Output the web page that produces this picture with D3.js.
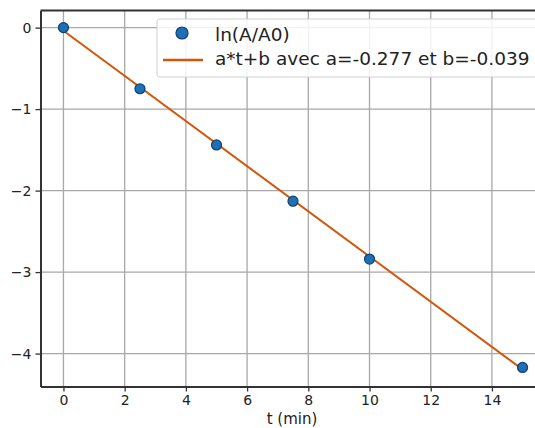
<!DOCTYPE html>
<html>
<head>
<meta charset="utf-8">
<script src="https://cdn.jsdelivr.net/npm/d3@7"></script>
<style>
  body { margin: 0; background: #fff; }
  text { font-family: "DejaVu Sans", sans-serif; fill: #222; }
</style>
</head>
<body>
<svg id="chart" width="535" height="428"></svg>
<script>
// measured points: t (min) and ln(A/A0)
var tValues = [0, 2.5, 5, 7.5, 10, 15];
var lnValues = [0, -0.75, -1.44, -2.13, -2.84, -4.17];
// linear fit
var slopeA = -0.277;
var interceptB = -0.039;
var xTicks = [0, 2, 4, 6, 8, 10, 12, 14];
var yTicks = [0, -1, -2, -3, -4];
var legendLabels = ['ln(A/A0)', 'a*t+b avec a=-0.277 et b=-0.039'];

var svg = d3.select('#chart');
var plotL = 40.5, plotR = 545.5, plotT = 10.5, plotB = 386.5;

var x = d3.scaleLinear().domain([-0.75, 15.75]).range([plotL, plotR]);
var y = d3.scaleLinear().domain([-4.404, 0.21]).range([plotB, plotT]);

// grid
svg.append('g').selectAll('line').data(xTicks).join('line')
    .attr('x1', function(d) { return x(d); }).attr('x2', function(d) { return x(d); })
    .attr('y1', plotT).attr('y2', plotB)
    .attr('stroke', '#a8a8a8').attr('stroke-width', 1.3);
svg.append('g').selectAll('line').data(yTicks).join('line')
    .attr('y1', function(d) { return y(d); }).attr('y2', function(d) { return y(d); })
    .attr('x1', plotL).attr('x2', plotR)
    .attr('stroke', '#a8a8a8').attr('stroke-width', 1.3);

// axes
var xAxis = svg.append('g').attr('transform', 'translate(0,' + plotB + ')')
    .call(d3.axisBottom(x).tickValues(xTicks).tickSizeInner(5).tickSizeOuter(0).tickPadding(4)
        .tickFormat(d3.format('d')));
var yAxis = svg.append('g').attr('transform', 'translate(' + plotL + ',0)')
    .call(d3.axisLeft(y).tickValues(yTicks).tickSizeInner(5).tickSizeOuter(0).tickPadding(4)
        .tickFormat(function(d) { return d < 0 ? '\u2212' + Math.abs(d) : d; }));
[xAxis, yAxis].forEach(function(ax) {
    ax.select('.domain').attr('stroke', '#333').attr('stroke-width', 2);
    ax.selectAll('.tick line').attr('stroke', '#333').attr('stroke-width', 1.3);
    ax.selectAll('.tick text').style('font-size', '14px').style('font-family', '"DejaVu Sans", sans-serif')
        .attr('fill', '#1a1a1a');
});
// top spine
svg.append('line').attr('x1', plotL).attr('x2', plotR).attr('y1', plotT).attr('y2', plotT)
    .attr('stroke', '#333').attr('stroke-width', 2);

svg.append('text').attr('x', (plotL + plotR) / 2 - 1).attr('y', 424)
    .attr('text-anchor', 'middle').style('font-size', '15px').text('t (min)');

// fit line
svg.append('line')
    .attr('x1', x(0)).attr('y1', y(interceptB))
    .attr('x2', x(15)).attr('y2', y(slopeA * 15 + interceptB))
    .attr('stroke', '#d2570a').attr('stroke-width', 2);

// points
svg.append('g').selectAll('circle').data(tValues).join('circle')
    .attr('cx', function(d) { return x(d); })
    .attr('cy', function(d, i) { return y(lnValues[i]); })
    .attr('r', 5).attr('fill', '#1f6fb4').attr('stroke', '#0d3f78').attr('stroke-width', 1.2);

// legend
var lg = svg.append('g');
lg.append('rect').attr('x', 157).attr('y', 19).attr('width', 400).attr('height', 58).attr('rx', 3)
    .attr('fill', 'rgba(255,255,255,0.85)').attr('stroke', '#d0d0d0');
lg.append('circle').attr('cx', 182).attr('cy', 33).attr('r', 6)
    .attr('fill', '#1f6fb4').attr('stroke', '#0d3f78').attr('stroke-width', 1.2);
lg.append('line').attr('x1', 163).attr('x2', 203).attr('y1', 60).attr('y2', 60)
    .attr('stroke', '#d2570a').attr('stroke-width', 2.4);
lg.selectAll('text').data(legendLabels).join('text')
    .attr('x', 215).attr('y', function(d, i) { return 41 + i * 24; })
    .style('font-size', '18.5px').text(function(d) { return d; });
</script>
</body>
</html>
